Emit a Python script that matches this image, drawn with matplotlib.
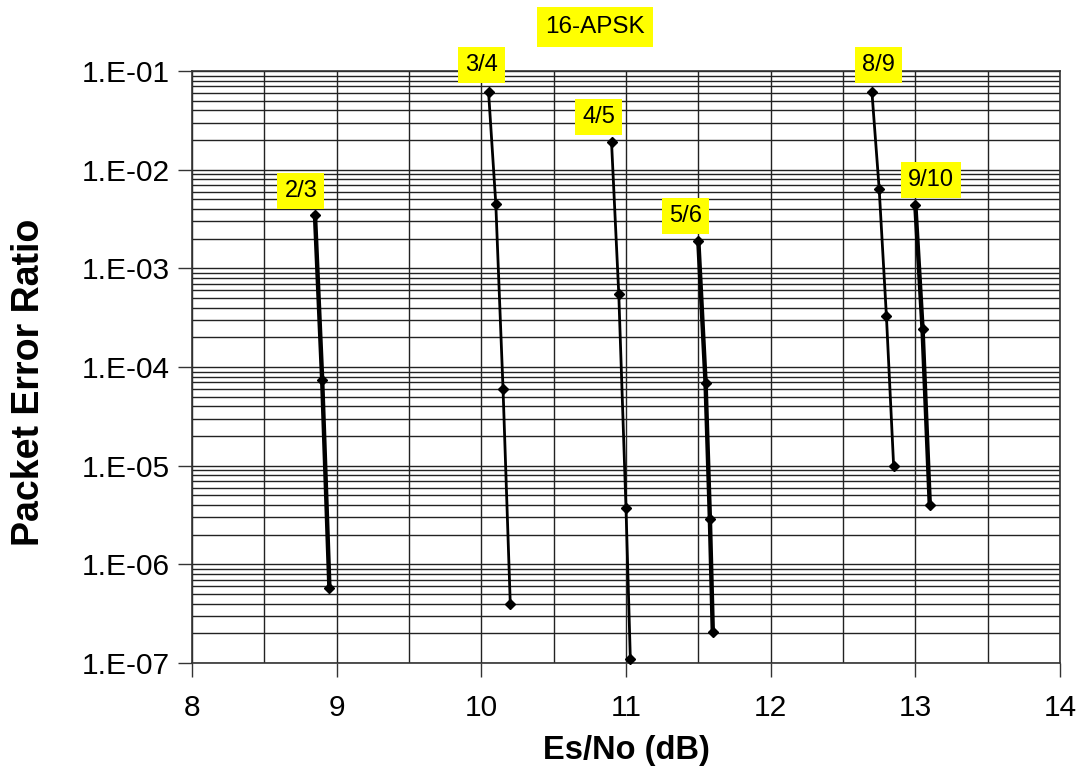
import matplotlib
matplotlib.use("Agg")
import matplotlib.pyplot as plt
from matplotlib.ticker import FixedLocator, LogLocator, NullFormatter
import numpy as np

plt.rcParams['font.family'] = ['Liberation Sans', 'DejaVu Sans']

# Data
rates = ["2/3", "3/4", "4/5", "5/6", "8/9", "9/10"]
esno_23 = [8.85, 8.90, 8.95]
per_23 = [3.5e-3, 7.3e-5, 5.7e-7]
esno_34 = [10.05, 10.10, 10.15, 10.20]
per_34 = [6.1e-2, 4.5e-3, 6.0e-5, 4.0e-7]
esno_45 = [10.90, 10.95, 11.00, 11.03]
per_45 = [1.9e-2, 5.5e-4, 3.7e-6, 1.1e-7]
esno_56 = [11.50, 11.55, 11.58, 11.60]
per_56 = [1.9e-3, 6.9e-5, 2.85e-6, 2.05e-7]
esno_89 = [12.70, 12.75, 12.80, 12.85]
per_89 = [6.1e-2, 6.4e-3, 3.3e-4, 1.0e-5]
esno_910 = [13.00, 13.05, 13.10]
per_910 = [4.4e-3, 2.4e-4, 3.95e-6]

series = [(esno_23, per_23), (esno_34, per_34), (esno_45, per_45),
          (esno_56, per_56), (esno_89, per_89), (esno_910, per_910)]
widths = [3.2, 2.0, 2.0, 3.2, 2.0, 3.2]
x_ticks = [8, 9, 10, 11, 12, 13, 14]
y_tick_labels = ["1.E-07", "1.E-06", "1.E-05", "1.E-04", "1.E-03", "1.E-02", "1.E-01"]
y_ticks = [1e-7, 1e-6, 1e-5, 1e-4, 1e-3, 1e-2, 1e-1]

fig = plt.figure(figsize=(10.83, 7.69), dpi=100)
ax = fig.add_axes([192/1083, 1-663/769, (1060-192)/1083, (663-71)/769])

ax.set_yscale('log')
ax.set_xlim(8, 14)
ax.set_ylim(1e-7, 1e-1)

# grid
ax.xaxis.set_major_locator(FixedLocator(x_ticks))
ax.xaxis.set_minor_locator(FixedLocator(np.arange(8.5, 14, 1.0)))
ax.yaxis.set_major_locator(FixedLocator(y_ticks))
ax.yaxis.set_minor_locator(LogLocator(base=10, subs=np.arange(2, 10)))
ax.yaxis.set_minor_formatter(NullFormatter())
ax.set_yticklabels(y_tick_labels)
ax.grid(True, which='major', axis='both', color='#222222', linewidth=1.0)
ax.grid(True, which='minor', axis='both', color='#222222', linewidth=1.0)
ax.tick_params(axis='both', which='major', direction='out', length=10, width=1,
               labelsize=21.5, color='#333333')
ax.tick_params(axis='both', which='minor', length=0)
ax.tick_params(axis='x', pad=12)
ax.tick_params(axis='y', pad=6)
for s in ax.spines.values():
    s.set_color('#333333')
    s.set_linewidth(1.2)
ax.set_axisbelow(True)

for (xs, ys), lw in zip(series, widths):
    ax.plot(xs, ys, color='black', linewidth=lw, marker='D', markersize=5,
            zorder=3, clip_on=False)

# labels for each curve
label_offsets = [(-14, 24), (-7, 27), (-13, 25), (-13, 25), (7, 27), (16, 25)]
for r, (xs, ys), (dx, dy) in zip(rates, series, label_offsets):
    ax.annotate(r, xy=(xs[0], ys[0]), xytext=(dx, dy), textcoords='offset pixels',
                ha='center', va='center', fontsize=17, zorder=5,
                bbox=dict(boxstyle='square,pad=0.3', fc='#ffff00', ec='none'))

fig.text(595/1083, 1-27/769, "16-APSK", ha='center', va='center', fontsize=17.5,
         bbox=dict(boxstyle='square,pad=0.35', fc='#ffff00', ec='none'))

ax.set_xlabel("Es/No (dB)", fontsize=23.5, fontweight='bold', labelpad=10)
ax.set_ylabel("Packet Error Ratio", fontsize=27, fontweight='bold')
ax.yaxis.set_label_coords((47 - 192) / 868, (663 - 382) / 592)

fig.savefig("out.png", dpi=100)
